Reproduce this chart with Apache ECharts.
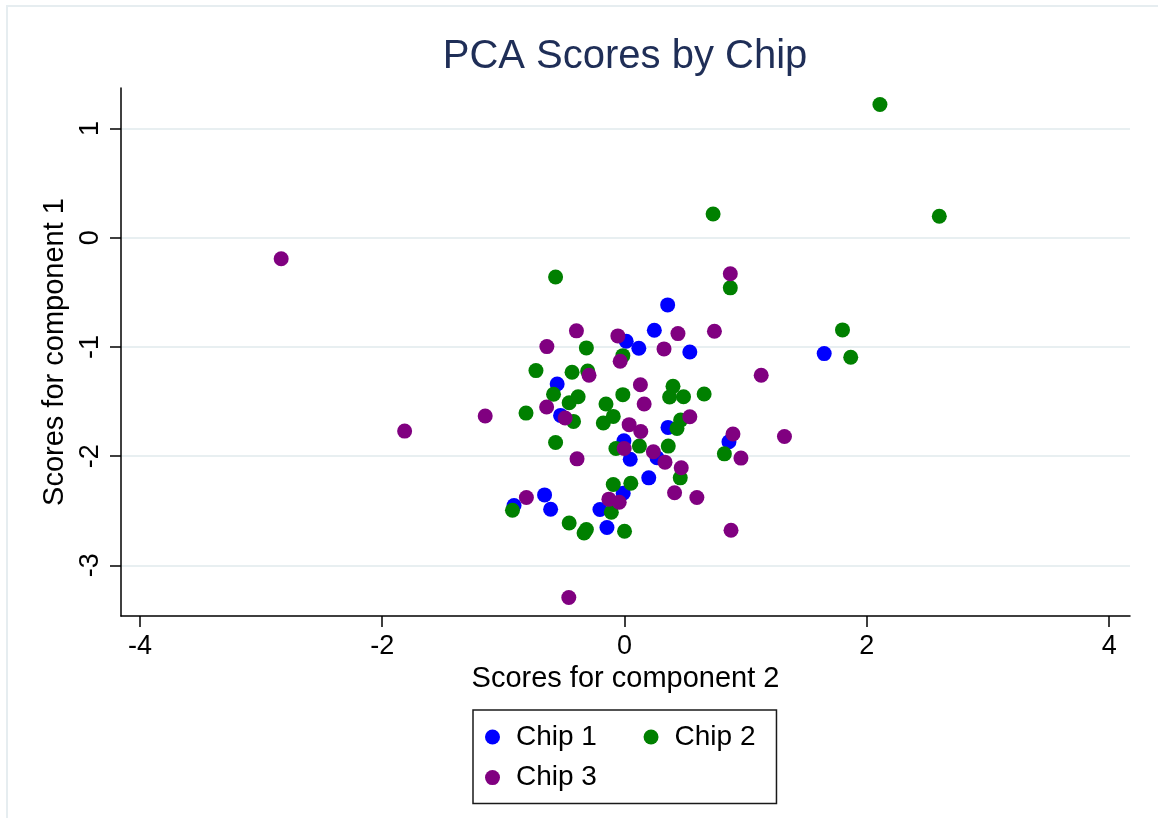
<!DOCTYPE html>
<html>
<head>
<meta charset="utf-8">
<title>PCA Scores by Chip</title>
<script src="https://cdn.jsdelivr.net/npm/echarts@6/dist/echarts.min.js"></script>
<style>
  html, body { margin: 0; padding: 0; background: #ffffff; }
  #chart { width: 1158px; height: 818px; }
</style>
</head>
<body>
<div id="chart"></div>
<script>
// Scores: [component 2, component 1] for each sample
const chipNames = ['Chip 1', 'Chip 2', 'Chip 3'];

const chip1 = [
  [0.356, -0.615], [0.246, -0.847], [0.014, -0.948], [0.118, -1.012], [0.539, -1.046],
  [-0.556, -1.339], [-0.528, -1.627], [0.359, -1.737], [-0.005, -1.860], [0.047, -2.028],
  [0.268, -2.015], [0.862, -1.869], [0.200, -2.199], [-0.011, -2.339], [-0.203, -2.489],
  [-0.660, -2.355], [-0.610, -2.486], [-0.912, -2.452], [-0.145, -2.654], [1.648, -1.061]
];

const chip2 = [
  [-0.569, -0.360], [0.873, -0.459], [2.108, 1.220], [0.731, 0.217], [2.598, 0.196],
  [1.799, -0.844], [1.867, -1.095], [-0.315, -1.009], [-0.014, -1.080], [-0.731, -1.217],
  [-0.433, -1.232], [-0.304, -1.220], [0.400, -1.361], [-0.586, -1.434], [-0.014, -1.437],
  [0.372, -1.459], [0.487, -1.456], [0.657, -1.431], [-0.383, -1.456], [-0.457, -1.511],
  [-0.153, -1.523], [-0.813, -1.606], [-0.421, -1.682], [-0.093, -1.636], [-0.175, -1.697],
  [0.463, -1.670], [0.433, -1.746], [-0.569, -1.875], [-0.071, -1.930], [0.123, -1.908],
  [0.361, -1.908], [0.460, -2.199], [0.824, -1.979], [-0.093, -2.260], [0.052, -2.248],
  [-0.109, -2.514], [-0.925, -2.495], [-0.457, -2.612], [-0.315, -2.673], [-0.334, -2.704],
  [0.000, -2.688]
];

const chip3 = [
  [0.873, -0.330], [0.441, -0.878], [0.742, -0.856], [-0.397, -0.853], [-0.055, -0.899],
  [0.326, -1.018], [-0.641, -0.997], [-0.036, -1.131], [-0.293, -1.260], [1.128, -1.260],
  [0.131, -1.346], [0.162, -1.523], [-0.643, -1.550], [-1.150, -1.633], [-0.490, -1.651],
  [0.038, -1.712], [0.134, -1.774], [0.539, -1.639], [0.895, -1.798], [-0.003, -1.930],
  [0.238, -1.960], [0.334, -2.055], [0.468, -2.107], [0.961, -2.018], [-0.392, -2.025],
  [-0.129, -2.394], [-0.044, -2.422], [0.413, -2.336], [0.597, -2.379], [-0.810, -2.379],
  [0.879, -2.679], [-0.460, -3.294], [-2.834, -0.193], [-1.815, -1.771], [1.320, -1.820]
];

const xTicks = [-4, -2, 0, 2, 4];
const yTicks = [-3, -2, -1, 0, 1];

const chipColors = ['#0000ff', '#008000', '#800080'];
const FONT = "'Liberation Sans', Arial, Helvetica, sans-serif";

const chart = echarts.init(document.getElementById('chart'), null, { renderer: 'canvas' });

const seriesData = [chip1, chip2, chip3];

// Legend labels get a transparent box so that their padding counts in the layout
const legendText = (padRight) => ({
  padding: [0, padRight, 0, 11],
  backgroundColor: 'transparent'
});

chart.setOption({
  animation: false,
  backgroundColor: '#ffffff',
  textStyle: { fontFamily: FONT },
  graphic: [{
    type: 'rect',
    silent: true,
    shape: { x: 7, y: 6, width: 1200, height: 900 },
    style: { fill: 'none', stroke: '#e6edf0', lineWidth: 2 }
  }],
  title: {
    text: 'PCA Scores by Chip',
    left: 625,
    top: 37,
    padding: 0,
    textAlign: 'center',
    textStyle: { fontFamily: FONT, fontSize: 40, fontWeight: 'normal', color: '#1f2e57' }
  },
  legend: {
    data: [
      { name: chipNames[0], textStyle: legendText(34) },
      { name: chipNames[1], textStyle: legendText(0) },
      { name: chipNames[2], textStyle: legendText(34) }
    ],
    orient: 'horizontal',
    left: 473,
    top: 710,
    width: 295,
    padding: [13, 21, 12, 12],
    itemGap: 12.6,
    itemWidth: 15,
    itemHeight: 15,
    icon: 'circle',
    borderColor: '#1a1a1a',
    borderWidth: 1.5,
    textStyle: { fontFamily: FONT, fontSize: 28, color: '#000000' }
  },
  grid: { left: 121, top: 88, width: 1009, height: 528, containLabel: false },
  xAxis: {
    type: 'value',
    min: -4.156,
    max: 4.172,
    name: 'Scores for component 2',
    nameLocation: 'middle',
    nameGap: 47,
    nameTextStyle: { fontFamily: FONT, fontSize: 29, color: '#000000' },
    axisLine: { show: true, onZero: false, lineStyle: { color: '#000000', width: 1.5 } },
    axisTick: { show: true, length: 11, lineStyle: { color: '#000000', width: 1.5 }, customValues: xTicks },
    axisLabel: { margin: 17, fontFamily: FONT, fontSize: 27, color: '#000000', customValues: xTicks, showMinLabel: true, showMaxLabel: true },
    splitLine: { show: false }
  },
  yAxis: {
    type: 'value',
    min: -3.464,
    max: 1.371,
    name: 'Scores for component 1',
    nameLocation: 'middle',
    nameGap: 52,
    nameTextStyle: { fontFamily: FONT, fontSize: 29, color: '#000000' },
    axisLine: { show: true, onZero: false, lineStyle: { color: '#000000', width: 1.5 } },
    axisTick: { show: true, length: 11, lineStyle: { color: '#000000', width: 1.5 }, customValues: yTicks },
    axisLabel: { margin: 17, rotate: 90, fontFamily: FONT, fontSize: 27, color: '#000000', customValues: yTicks },
    splitLine: { show: true, lineStyle: { color: '#e8eff1', width: 2 } }
  },
  series: seriesData.map((pts, i) => ({
    name: chipNames[i],
    type: 'scatter',
    data: pts,
    symbol: 'circle',
    symbolSize: 15,
    itemStyle: { color: chipColors[i], opacity: 1 },
    emphasis: { disabled: true }
  }))
});
</script>
</body>
</html>
